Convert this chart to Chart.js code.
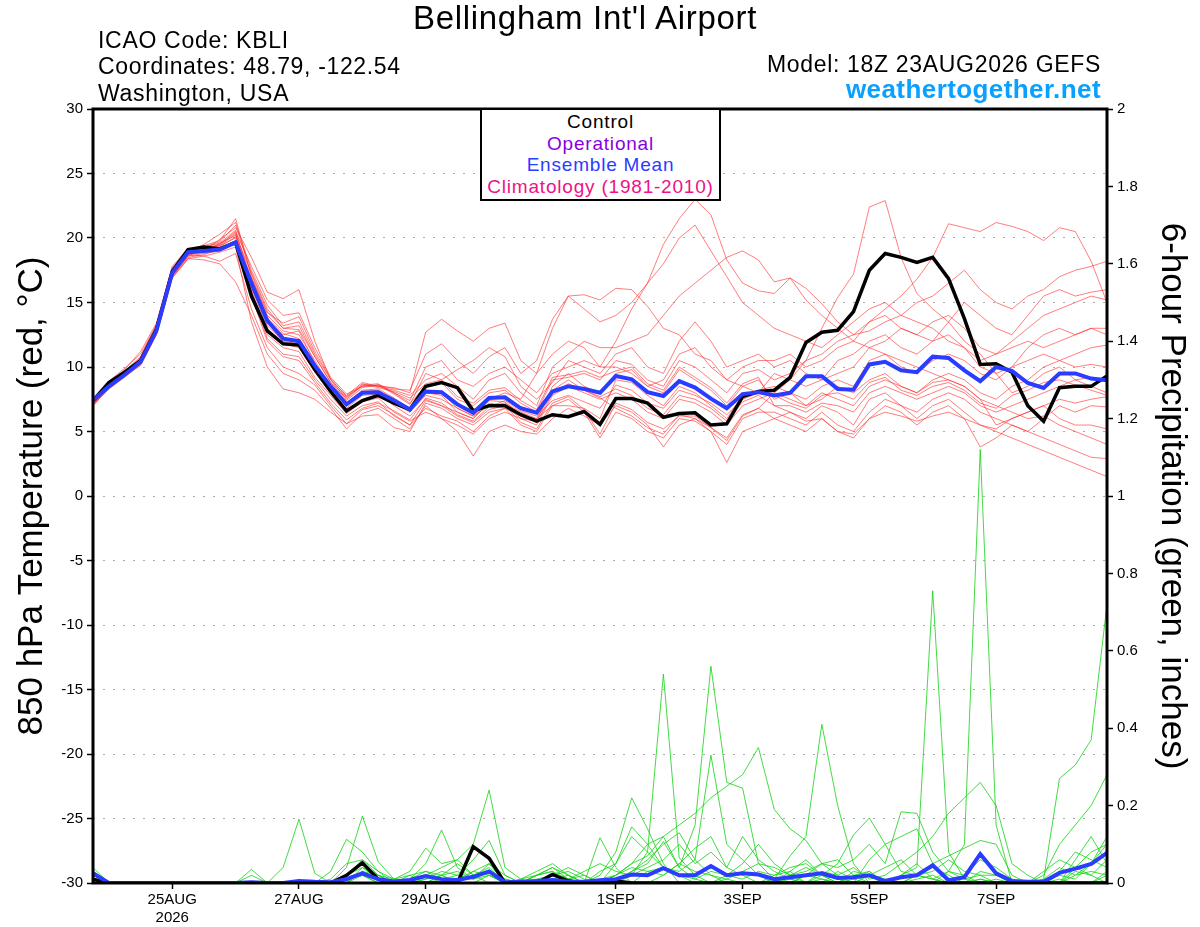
<!DOCTYPE html>
<html>
<head>
<meta charset="utf-8">
<script src="https://cdn.jsdelivr.net/npm/chart.js@4.4.1/dist/chart.umd.min.js"></script>
<style>
  body { margin: 0; background: #fff; font-family: "Liberation Sans", Arial, sans-serif; }
  #wrap { position: relative; width: 1200px; height: 927px; }
  .txt { position: absolute; white-space: nowrap; color: #000; }
  #legend-box {
    position: absolute; left: 480px; top: 108px; width: 237px; height: 88px;
    border: 2px solid #000; background: #fff; text-align: center;
    font-size: 19px; line-height: 21.7px; padding-top: 1px; letter-spacing: 0.8px;
  }
</style>
</head>
<body>
<div id="wrap">
  <canvas id="chart" width="1200" height="927"></canvas>
  <div class="txt" style="left:0;width:1170px;text-align:center;top:1px;font-size:33px;line-height:34px;letter-spacing:0.7px;">Bellingham Int'l Airport</div>
  <div class="txt" style="left:98px;top:27px;font-size:23px;line-height:26px;letter-spacing:0.7px;">ICAO Code: KBLI</div>
  <div class="txt" style="left:98px;top:53px;font-size:23px;line-height:26px;letter-spacing:0.65px;">Coordinates: 48.79, -122.54</div>
  <div class="txt" style="left:98px;top:80px;font-size:23px;line-height:26px;letter-spacing:0.7px;">Washington, USA</div>
  <div class="txt" style="right:99px;top:51px;font-size:23px;line-height:26px;letter-spacing:0.68px;">Model: 18Z 23AUG2026 GEFS</div>
  <div class="txt" style="right:99px;top:76px;font-size:26px;line-height:26px;font-weight:bold;color:#0aa0ff;letter-spacing:0.42px;">weathertogether.net</div>
  <div id="legend-box">
    <div style="color:#000">Control</div>
    <div style="color:#8a00e0">Operational</div>
    <div style="color:#2a3cff">Ensemble Mean</div>
    <div style="color:#ee1188">Climatology (1981-2010)</div>
  </div>
</div>
<script>
// forecast hours from 18Z 23AUG2026, every 6 h
const hours = Array.from({ length: 65 }, (_, i) => i * 6);

// day ticks (00Z) in forecast hours
const tickHours = [30, 78, 126, 198, 246, 294, 342];
const tickLabels = ["25AUG", "27AUG", "29AUG", "1SEP", "3SEP", "5SEP", "7SEP"];
const yearLabel = "2026";

// 850 hPa temperature, control run
const controlTemp = [
  7.4, 8.8, 9.6, 10.5, 12.9, 17.4, 19.1, 19.3, 19.15, 19.66,
  15.5, 12.8, 11.8, 11.7, 9.8, 8.1, 6.6, 7.4, 7.8, 7.2, 6.7,
  8.5, 8.8, 8.4, 6.6, 7.0, 7.0, 6.3, 5.8, 6.3, 6.15, 6.55, 5.55,
  7.55, 7.55, 7.2, 6.1, 6.4, 6.45, 5.5, 5.6, 7.7, 8.1,
  8.2, 9.2, 11.9, 12.7, 12.85, 14.3, 17.5, 18.8, 18.5, 18.1, 18.5,
  16.85, 13.75, 10.2, 10.25, 9.6, 7.0, 5.8, 8.4, 8.5, 8.5, 9.3
];

// 850 hPa temperature, ensemble mean
const meanTemp = [
  7.4, 8.5, 9.4, 10.4, 12.8, 17.3, 18.9, 19.0, 19.1, 19.65,
  16.5, 13.6, 12.2, 12.0, 10.1, 8.5, 7.1, 8.0, 8.05, 7.4, 6.7,
  8.1, 8.05, 7.1, 6.45, 7.6, 7.65, 6.8, 6.45, 8.1, 8.5, 8.3, 8.0,
  9.3, 9.05, 8.05, 7.75, 8.9, 8.4, 7.55, 6.8, 7.9, 8.05,
  7.8, 8.0, 9.28, 9.28, 8.3, 8.24, 10.2, 10.4, 9.74, 9.6, 10.8,
  10.7, 9.74, 8.9, 10.0, 9.7, 8.76, 8.37, 9.5, 9.5, 9.1, 8.97
];

// 850 hPa temperature, ensemble members
const memberTemp = [
  [7.2, 8.7, 9.6, 10.6, 13.1, 17.6, 19.1, 19.4, 19.8, 21.5,
   17.0, 14.0, 12.8, 12.5, 10.5, 8.5, 7.2, 8.2, 8.3, 7.6, 6.8,
   8.0, 7.8, 6.5, 6.0, 7.2, 7.0, 6.0, 5.5, 7.8, 8.5, 8.0, 7.5,
   8.0, 7.5, 6.5, 6.0, 7.5, 7.2, 6.5, 5.5, 7.0, 7.5,
   8.0, 9.0, 10.5, 13.0, 15.4, 17.2, 22.4, 22.9, 18.5, 15.7, 14.5,
   13.5, 12.0, 11.0, 9.5, 8.0, 8.5, 9.5, 10.0, 9.0, 8.5, 8.0],
  [7.3, 8.5, 9.4, 10.3, 12.6, 17.0, 18.6, 18.8, 19.0, 19.6,
   16.8, 13.5, 12.5, 12.8, 10.3, 8.6, 7.6, 8.6, 8.7, 8.0, 7.2,
   8.5, 8.8, 7.5, 7.0, 8.0, 8.2, 7.2, 6.5, 9.0, 9.2, 9.5, 9.0,
   10.5, 10.2, 9.0, 8.5, 10.5, 10.0, 9.0, 8.0, 9.5, 9.8,
   9.0, 9.5, 10.5, 11.0, 12.0, 12.5, 13.5, 14.5, 15.5, 16.8, 18.5,
   21.1, 20.8, 20.5, 21.2, 20.9, 20.5, 19.8, 20.8, 20.5, 18.2, 15.0],
  [7.4, 8.8, 9.8, 11.2, 13.4, 17.8, 19.2, 19.0, 19.9, 20.8,
   18.5, 15.8, 15.3, 16.0, 12.0, 9.0, 7.5, 8.6, 8.5, 8.4, 8.0,
   12.7, 13.7, 12.8, 12.0, 13.0, 13.4, 10.5, 9.5, 11.0, 12.0, 11.5, 10.0,
   12.0, 14.5, 16.5, 19.5, 21.5, 23.0, 21.8, 18.3, 16.5, 15.9,
   15.7, 16.9, 15.2, 14.0, 13.0, 12.0, 11.5, 11.0, 10.5, 10.0, 9.5,
   9.0, 8.5, 7.5, 7.0, 6.5, 6.0, 6.2, 5.5, 5.0, 4.5, 4.0],
  [7.3, 8.6, 9.7, 10.8, 13.3, 17.5, 18.9, 19.5, 20.3, 21.2,
   17.5, 14.8, 13.2, 13.5, 11.0, 9.0, 7.8, 8.8, 8.5, 8.2, 7.8,
   9.0, 9.5, 8.5, 7.5, 9.0, 9.5, 8.0, 7.0, 10.0, 11.0, 12.0, 11.5,
   11.5, 12.0, 12.5, 14.0, 15.5, 16.5, 17.5, 18.5, 19.0, 18.3,
   16.6, 16.9, 16.1, 14.9, 13.5, 12.5, 12.8, 13.5, 14.0, 15.0, 15.5,
   16.5, 17.5, 16.0, 15.0, 14.5, 15.5, 16.0, 17.0, 17.5, 17.8, 18.2],
  [7.0, 8.3, 9.3, 10.1, 12.5, 16.9, 18.4, 18.3, 18.0, 16.6,
   14.0, 11.0, 9.5, 9.0, 8.2, 6.8, 5.2, 6.4, 6.8, 6.0, 5.2,
   7.0, 6.0, 5.0, 3.1, 5.0, 5.5, 5.0, 4.8, 6.0, 6.8, 6.2, 5.5,
   7.0, 6.5, 5.5, 3.8, 5.5, 6.0, 5.0, 2.6, 5.0, 5.5,
   6.0, 5.5, 5.0, 6.0, 5.0, 4.5, 6.0, 7.0, 6.5, 5.5, 6.5,
   7.0, 6.0, 3.8, 4.5, 5.5, 5.0, 4.5, 4.0, 3.5, 3.0, 2.9],
  [7.1, 8.4, 9.5, 10.5, 12.9, 17.2, 18.8, 19.1, 19.3, 20.1,
   16.2, 13.0, 11.8, 11.5, 9.6, 8.0, 6.8, 7.8, 7.9, 7.0, 6.2,
   7.5, 7.0, 6.5, 6.0, 7.5, 8.0, 7.5, 9.5, 13.0, 15.5, 15.6, 15.2,
   16.1, 16.0, 14.7, 13.0, 12.5, 11.0, 10.5, 9.0, 8.5, 8.0,
   9.5, 9.0, 8.5, 9.0, 9.5, 10.0, 11.5, 12.0, 13.0, 12.5, 12.0,
   13.5, 15.0, 14.0, 13.0, 12.5, 14.0, 15.5, 16.0, 15.5, 15.8, 16.0],
  [7.2, 8.5, 9.5, 10.2, 12.7, 17.1, 18.7, 18.6, 18.9, 19.3,
   13.5, 10.0, 8.3, 8.0, 7.5, 6.5, 5.6, 6.2, 6.3, 5.3, 5.0,
   7.2, 6.8, 6.0, 5.5, 6.5, 6.8, 5.5, 5.0, 7.0, 7.5, 6.5, 4.5,
   6.5, 6.0, 5.0, 4.5, 6.0, 5.8, 5.0, 4.0, 6.0, 6.5,
   6.5, 6.0, 5.5, 6.5, 5.5, 5.0, 6.5, 7.5, 7.0, 6.0, 7.0,
   7.5, 6.5, 5.5, 5.0, 4.5, 4.0, 3.5, 3.0, 2.5, 2.0, 1.5],
  [7.2, 8.6, 9.6, 10.4, 12.8, 17.3, 18.9, 19.0, 19.5, 20.4,
   16.0, 12.5, 11.5, 11.2, 9.2, 7.8, 6.4, 7.3, 7.6, 6.5, 5.8,
   6.5, 6.0, 5.5, 4.8, 6.0, 6.5, 6.0, 5.8, 8.5, 9.5, 8.5, 8.0,
   9.5, 9.8, 8.5, 8.0, 9.8, 9.0, 8.2, 7.0, 8.5, 9.0,
   7.5, 8.0, 7.0, 7.5, 8.5, 8.0, 9.0, 9.5, 8.5, 8.0, 9.0,
   9.5, 9.0, 8.0, 7.5, 8.5, 9.0, 10.0, 10.5, 11.0, 11.5, 11.7],
  [7.3, 8.7, 9.7, 10.7, 13.0, 17.5, 19.0, 19.3, 19.7, 21.0,
   17.2, 14.3, 13.0, 12.9, 10.8, 8.8, 7.4, 8.4, 8.6, 7.9, 7.1,
   9.5, 9.0, 9.8, 10.5, 11.5, 10.8, 8.5, 7.5, 8.8, 10.5, 10.0, 9.5,
   11.0, 11.5, 10.0, 9.5, 12.0, 13.5, 12.0, 10.0, 10.5, 11.0,
   10.0, 10.5, 9.5, 9.0, 10.5, 11.0, 12.0, 12.5, 11.5, 11.0, 12.0,
   12.5, 11.5, 10.0, 9.5, 10.0, 10.5, 11.0, 10.5, 10.0, 10.2, 10.0],
  [7.4, 8.9, 9.9, 11.0, 13.2, 17.7, 19.1, 18.9, 19.6, 20.6,
   16.5, 13.2, 12.0, 11.8, 9.8, 8.2, 7.0, 8.0, 8.1, 7.2, 6.5,
   7.8, 7.5, 6.8, 6.2, 7.0, 7.2, 6.5, 6.0, 7.0, 7.0, 6.8, 6.0,
   9.0, 8.8, 7.8, 7.0, 8.5, 8.0, 7.0, 6.0, 7.8, 8.2,
   8.5, 8.0, 7.5, 8.5, 9.0, 8.5, 10.5, 11.0, 10.0, 9.5, 10.5,
   11.0, 10.5, 9.5, 9.0, 10.0, 11.5, 12.5, 13.0, 12.5, 13.0, 13.0],
  [7.1, 8.5, 9.4, 10.4, 12.7, 17.1, 18.6, 19.2, 19.4, 20.0,
   16.6, 13.8, 12.6, 12.2, 10.2, 8.4, 7.1, 8.1, 8.2, 7.4, 6.6,
   8.2, 8.0, 6.8, 6.2, 7.4, 7.3, 6.2, 5.7, 8.0, 8.7, 8.2, 7.7,
   8.3, 7.8, 6.8, 6.3, 7.8, 7.5, 6.8, 5.8, 7.3, 7.8,
   7.0, 6.5, 6.0, 7.0, 6.5, 5.5, 7.5, 8.0, 7.0, 6.5, 7.5,
   8.0, 7.5, 6.5, 6.0, 5.5, 5.0, 6.0, 7.0, 6.5, 7.0, 6.9],
  [7.0, 8.4, 9.4, 10.3, 12.6, 17.0, 18.5, 18.7, 19.2, 19.8,
   15.8, 12.2, 11.0, 10.8, 9.0, 7.5, 6.2, 7.0, 7.3, 6.2, 5.5,
   6.8, 6.2, 5.8, 5.0, 6.2, 6.8, 6.2, 6.0, 8.2, 9.0, 8.2, 7.6,
   6.8, 6.2, 5.3, 4.8, 6.3, 6.0, 5.3, 4.3, 6.2, 6.8,
   6.0, 6.5, 5.8, 6.0, 5.0, 4.8, 6.0, 6.5, 6.2, 5.8, 6.2,
   6.5, 6.0, 5.5, 5.2, 6.0, 6.5, 7.0, 7.5, 7.2, 7.5, 7.7],
  [7.3, 8.6, 9.5, 10.5, 12.9, 17.4, 18.8, 19.3, 19.6, 20.2,
   17.3, 14.5, 13.0, 13.2, 10.8, 8.8, 7.7, 8.7, 8.4, 8.1, 7.6,
   8.7, 9.0, 7.7, 7.2, 8.2, 8.4, 7.4, 6.7, 9.2, 9.4, 9.7, 9.2,
   9.7, 10.0, 8.7, 8.2, 10.0, 9.2, 8.4, 7.2, 8.7, 9.2,
   7.0, 7.0, 6.5, 7.2, 7.0, 6.5, 8.0, 8.5, 8.0, 7.5, 8.0,
   8.5, 8.0, 7.0, 6.5, 7.0, 7.5, 8.0, 8.5, 9.0, 9.2, 9.0],
  [7.1, 8.3, 9.2, 10.2, 12.5, 16.9, 18.4, 18.6, 18.2, 18.8,
   14.5, 11.5, 10.0, 9.5, 8.6, 7.0, 5.6, 6.7, 7.0, 6.3, 5.5,
   7.4, 7.0, 6.2, 5.7, 6.7, 7.0, 5.7, 5.2, 7.2, 7.7, 6.7, 4.8,
   7.2, 6.7, 5.7, 5.2, 6.2, 6.2, 5.3, 4.5, 6.3, 6.8,
   8.0, 7.5, 7.0, 8.0, 7.5, 7.0, 8.5, 9.0, 8.5, 8.0, 8.8,
   9.0, 8.5, 7.5, 5.5, 6.0, 6.5, 7.0, 6.0, 5.5, 5.5, 5.2],
  [7.2, 8.6, 9.5, 10.5, 12.8, 17.3, 18.9, 19.2, 19.5, 20.5,
   17.8, 15.2, 14.0, 14.2, 11.5, 9.2, 7.9, 8.5, 8.6, 8.3, 8.2,
   11.0, 11.8, 10.5, 9.5, 10.8, 11.5, 9.5, 10.5, 13.7, 15.5, 14.5, 13.5,
   14.0, 15.0, 16.5, 18.0, 20.0, 21.0, 19.0, 17.0, 15.0, 14.0,
   13.0, 12.5, 12.0, 11.5, 12.5, 13.5, 14.5, 15.0, 14.0, 13.5, 13.0,
   12.0, 11.5, 10.5, 11.0, 12.0, 13.0, 14.0, 14.5, 15.0, 15.5, 15.2],
  [7.3, 8.7, 9.6, 10.6, 13.0, 17.4, 18.9, 19.1, 19.4, 20.3,
   16.9, 14.2, 13.4, 13.9, 11.2, 9.1, 7.7, 8.5, 8.6, 8.0, 7.4,
   10.0, 10.5, 9.0, 8.5, 9.5, 10.0, 9.0, 8.0, 9.5, 10.0, 10.5, 10.0,
   10.0, 9.5, 8.5, 9.0, 11.0, 11.5, 10.0, 9.0, 10.0, 10.5,
   10.5, 11.0, 10.0, 10.5, 11.5, 12.0, 13.5, 14.0, 13.0, 12.5, 13.5,
   14.0, 13.0, 11.5, 11.0, 11.5, 12.0, 11.5, 12.0, 12.5, 13.0, 12.5],
  [7.2, 8.5, 9.4, 10.4, 12.7, 17.2, 18.7, 18.9, 19.1, 19.7,
   15.5, 12.0, 10.8, 10.5, 8.8, 7.2, 5.9, 6.8, 7.2, 6.6, 5.9,
   7.6, 7.2, 6.3, 5.8, 6.9, 7.4, 6.6, 6.2, 7.4, 7.8, 7.3, 6.8,
   8.6, 8.2, 7.2, 6.8, 8.2, 7.8, 7.2, 6.3, 7.5, 8.0,
   7.8, 7.2, 6.8, 7.8, 8.0, 7.5, 8.8, 9.2, 8.2, 7.8, 8.5,
   8.8, 8.2, 7.2, 6.8, 7.8, 8.2, 8.8, 9.0, 8.6, 8.2, 7.8]
];

// 6-hour precipitation (inches), control and ensemble mean
const controlPrecip = [
  0.01, 0, 0, 0, 0, 0, 0, 0, 0, 0,
  0, 0, 0, 0, 0, 0, 0.02, 0.052, 0.01, 0,
  0, 0, 0, 0, 0.094, 0.064, 0, 0, 0, 0.022,
  0.005, 0, 0, 0.005, 0, 0, 0, 0, 0, 0,
  0, 0, 0, 0, 0, 0, 0, 0, 0, 0,
  0, 0, 0, 0, 0, 0, 0, 0, 0, 0,
  0, 0, 0, 0, 0
];
const meanPrecip = [
  0.025, 0, 0, 0, 0, 0, 0, 0, 0, 0,
  0.002, 0, 0, 0.005, 0.003, 0.002, 0.01, 0.025, 0.01, 0.004,
  0.008, 0.018, 0.01, 0.008, 0.016, 0.03, 0.002, 0.003, 0.005, 0.008,
  0.003, 0.003, 0.007, 0.01, 0.022, 0.02, 0.038, 0.02, 0.02, 0.044,
  0.02, 0.025, 0.022, 0.01, 0.015, 0.02, 0.025, 0.013, 0.015, 0.02,
  0.005, 0.015, 0.02, 0.046, 0.007, 0.015, 0.075, 0.025, 0.005, 0.003,
  0.003, 0.026, 0.037, 0.049, 0.078
];

// 6-hour precipitation (inches), ensemble members
const memberPrecip = [
  [0.03, 0, 0, 0, 0, 0, 0, 0, 0, 0,
   0.035, 0, 0, 0, 0, 0, 0.01, 0.02, 0, 0,
   0, 0.02, 0.01, 0, 0, 0, 0, 0, 0, 0.01,
   0, 0, 0.02, 0.08, 0.22, 0.14, 0.05, 0, 0, 0,
   0.01, 0, 0, 0.02, 0.03, 0.06, 0.02, 0, 0, 0,
   0, 0, 0, 0, 0.03, 0.1, 1.12, 0.15, 0, 0,
   0, 0, 0.02, 0.05, 0.1],
  [0.04, 0, 0, 0, 0, 0, 0, 0, 0, 0,
   0.02, 0, 0, 0, 0, 0, 0, 0.03, 0.01, 0,
   0, 0, 0.02, 0.05, 0.02, 0, 0, 0, 0.02, 0.03,
   0, 0, 0, 0, 0.02, 0.08, 0.54, 0.065, 0.02, 0,
   0, 0, 0, 0, 0.01, 0, 0, 0.03, 0.01, 0,
   0, 0, 0, 0, 0, 0, 0, 0, 0, 0,
   0, 0, 0.06, 0.12, 0.05],
  [0.02, 0, 0, 0, 0, 0, 0, 0, 0, 0,
   0, 0, 0.04, 0.165, 0.025, 0, 0.02, 0.04, 0.02, 0,
   0, 0.01, 0.03, 0.02, 0.06, 0.11, 0.02, 0, 0, 0,
   0, 0, 0, 0, 0, 0.03, 0.04, 0.02, 0, 0,
   0, 0, 0, 0.01, 0.07, 0.12, 0.41, 0.2, 0.05, 0,
   0, 0.02, 0.05, 0.01, 0, 0, 0.01, 0, 0, 0,
   0, 0, 0, 0, 0.03],
  [0.03, 0, 0, 0, 0, 0, 0, 0, 0, 0,
   0, 0, 0, 0, 0, 0.03, 0.113, 0.08, 0.03, 0.01,
   0, 0, 0, 0.01, 0.03, 0.05, 0, 0, 0.02, 0.04,
   0.01, 0, 0, 0, 0.03, 0.06, 0.1, 0.13, 0.06, 0.02,
   0, 0, 0, 0, 0, 0.02, 0.05, 0.06, 0.02, 0.03,
   0, 0.02, 0.04, 0.755, 0.08, 0.01, 0, 0, 0, 0,
   0, 0, 0.04, 0.02, 0],
  [0.02, 0, 0, 0, 0, 0, 0, 0, 0, 0,
   0, 0, 0, 0, 0, 0.01, 0.05, 0.06, 0.02, 0,
   0.01, 0.03, 0.02, 0, 0, 0.02, 0, 0.01, 0.03, 0.05,
   0.02, 0, 0.117, 0.04, 0, 0, 0.02, 0.05, 0.09, 0.12,
   0.04, 0.02, 0, 0, 0.03, 0, 0.02, 0.01, 0, 0.06,
   0.1, 0.12, 0.14, 0.05, 0.07, 0.09, 0.11, 0.1, 0.02, 0,
   0, 0.03, 0.08, 0.06, 0.04],
  [0.03, 0, 0, 0, 0, 0, 0, 0, 0, 0,
   0, 0, 0, 0, 0, 0, 0.04, 0.173, 0.055, 0.01,
   0.02, 0.03, 0.01, 0, 0.02, 0.04, 0, 0, 0, 0.02,
   0.03, 0.01, 0, 0.02, 0.05, 0.07, 0.12, 0.04, 0.15, 0.56,
   0.26, 0.245, 0.05, 0.01, 0, 0.02, 0.01, 0, 0.01, 0.03,
   0, 0, 0.01, 0.02, 0, 0, 0.03, 0.02, 0, 0,
   0, 0.01, 0, 0, 0.02],
  [0.02, 0, 0, 0, 0, 0, 0, 0, 0, 0,
   0, 0, 0, 0, 0, 0, 0.02, 0.06, 0.03, 0,
   0.02, 0, 0.02, 0.03, 0.01, 0.02, 0, 0.01, 0.02, 0.03,
   0.01, 0.02, 0, 0.01, 0.03, 0.05, 0.107, 0.04, 0.01, 0,
   0.02, 0.05, 0.1, 0.05, 0.02, 0, 0.01, 0, 0.02, 0,
   0.01, 0, 0.02, 0.03, 0.06, 0.03, 0.02, 0, 0, 0,
   0.01, 0.27, 0.305, 0.37, 0.72],
  [0.01, 0, 0, 0, 0, 0, 0, 0, 0, 0,
   0, 0, 0, 0, 0, 0, 0.01, 0.03, 0.02, 0.01,
   0.03, 0.09, 0.05, 0.06, 0.02, 0.03, 0.01, 0, 0.02, 0.04,
   0.02, 0, 0.03, 0.05, 0.12, 0.08, 0.04, 0.03, 0.06, 0.33,
   0.1, 0.06, 0.02, 0, 0.02, 0.04, 0.02, 0, 0.03, 0.02,
   0.04, 0.06, 0.02, 0.01, 0.03, 0.02, 0.06, 0.04, 0.01, 0,
   0.02, 0.1, 0.15, 0.2, 0.28],
  [0.02, 0, 0, 0, 0, 0, 0, 0, 0, 0,
   0, 0, 0, 0, 0, 0, 0, 0.03, 0.01, 0,
   0.01, 0.05, 0.137, 0.04, 0.01, 0.05, 0.02, 0, 0, 0.02,
   0.01, 0.03, 0.05, 0.03, 0.02, 0.04, 0.06, 0.1, 0.05, 0.08,
   0.04, 0.12, 0.06, 0.03, 0.01, 0, 0.03, 0.02, 0.04, 0.01,
   0.02, 0.05, 0.08, 0.12, 0.18, 0.22, 0.26, 0.2, 0.05, 0.02,
   0, 0.02, 0.01, 0.05, 0.12],
  [0.03, 0, 0, 0, 0, 0, 0, 0, 0, 0,
   0, 0, 0, 0, 0, 0, 0.02, 0.05, 0.02, 0,
   0.01, 0.02, 0.04, 0.06, 0.1, 0.24, 0.04, 0.01, 0, 0.01,
   0.02, 0, 0.01, 0.02, 0.05, 0.1, 0.12, 0.15, 0.18, 0.22,
   0.25, 0.28, 0.35, 0.19, 0.14, 0.11, 0.05, 0.02, 0, 0.02,
   0.01, 0, 0.02, 0.04, 0.02, 0, 0.01, 0, 0, 0,
   0.03, 0.06, 0.04, 0.08, 0.1],
  [0.02, 0, 0, 0, 0, 0, 0, 0, 0, 0,
   0, 0, 0, 0, 0, 0, 0, 0.04, 0.01, 0,
   0, 0.01, 0.02, 0, 0.03, 0.02, 0, 0, 0.01, 0.02,
   0.04, 0.02, 0, 0.05, 0.145, 0.1, 0.04, 0.02, 0.01, 0.03,
   0.02, 0.01, 0.03, 0.02, 0.04, 0.05, 0.02, 0.05, 0.124, 0.168,
   0.1, 0.03, 0.02, 0.01, 0, 0.02, 0, 0.01, 0, 0,
   0, 0, 0.03, 0.02, 0.06],
  [0.01, 0, 0, 0, 0, 0, 0, 0, 0, 0,
   0, 0, 0, 0, 0, 0, 0, 0.02, 0, 0,
   0, 0, 0.01, 0.02, 0.01, 0.03, 0.01, 0, 0, 0.02,
   0.01, 0, 0, 0.02, 0.04, 0.03, 0.02, 0.05, 0.03, 0.02,
   0.01, 0.03, 0.05, 0.04, 0.02, 0.03, 0.05, 0.04, 0.06, 0.1,
   0.05, 0.184, 0.18, 0.08, 0.03, 0.01, 0.02, 0.02, 0, 0,
   0.01, 0.04, 0.02, 0.03, 0.02]
];

const FONT = "'Liberation Sans', Arial, sans-serif";

function pts(vals) {
  return vals.map((v, i) => ({ x: hours[i], y: v }));
}

function line(vals, color, width, axis, order) {
  return {
    data: pts(vals),
    borderColor: color,
    borderWidth: width,
    yAxisID: axis,
    pointRadius: 0,
    tension: 0,
    fill: false,
    order: order,
  };
}

const datasets = [];
memberTemp.forEach((m) => datasets.push(line(m, "rgba(255, 40, 40, 0.6)", 1, "y", 10)));
memberPrecip.forEach((m) => datasets.push(line(m, "rgba(20, 210, 20, 0.8)", 1, "y2", 10)));
datasets.push(line(controlTemp, "#000000", 3.5, "y", 2));
datasets.push(line(controlPrecip, "#000000", 3.5, "y2", 2));
datasets.push(line(meanTemp, "#2a3cff", 4, "y", 1));
datasets.push(line(meanPrecip, "#2a3cff", 4, "y2", 1));

// heavy frame round the plot area
const framePlugin = {
  id: "frame",
  afterDraw(chart) {
    const { ctx, chartArea: a } = chart;
    ctx.save();
    ctx.strokeStyle = "#000";
    ctx.lineWidth = 3;
    ctx.strokeRect(a.left, a.top, a.right - a.left, a.bottom - a.top);
    ctx.restore();
  },
};

new Chart(document.getElementById("chart"), {
  type: "line",
  data: { datasets: datasets },
  plugins: [framePlugin],
  options: {
    responsive: false,
    animation: false,
    layout: { padding: { top: 109, left: 0, right: 0, bottom: 0 } },
    plugins: {
      legend: { display: false },
      tooltip: { enabled: false },
    },
    scales: {
      x: {
        type: "linear",
        min: 0,
        max: 384,
        afterBuildTicks: (scale) => {
          scale.ticks = tickHours.map((h) => ({ value: h }));
        },
        afterFit: (scale) => {
          scale.height = 44;
        },
        ticks: {
          autoSkip: false,
          maxRotation: 0,
          color: "#000",
          padding: 2,
          font: { family: FONT, size: 15 },
          callback: (v) => {
            const i = tickHours.indexOf(v);
            if (i === 0) return [tickLabels[i], yearLabel];
            return tickLabels[i];
          },
        },
        grid: {
          drawOnChartArea: false,
          drawTicks: true,
          tickLength: 6,
          tickColor: "#000",
          tickWidth: 1.5,
        },
        border: { display: false },
      },
      y: {
        position: "left",
        min: -30,
        max: 30,
        afterFit: (scale) => {
          scale.width = 93;
        },
        ticks: {
          stepSize: 5,
          color: "#000",
          padding: 4,
          font: { family: FONT, size: 15 },
        },
        grid: {
          color: "#aaaaaa",
          lineWidth: 1,
          tickLength: 6,
          tickColor: "#000",
          tickWidth: 1.5,
        },
        border: { display: false, dash: [2, 8] },
        title: {
          display: true,
          text: "850 hPa Temperature (red, \u00B0C)",
          color: "#000",
          font: { family: FONT, size: 35 },
          padding: { top: 11, bottom: 0 },
        },
      },
      y2: {
        position: "right",
        min: 0,
        max: 2,
        afterFit: (scale) => {
          scale.width = 93;
        },
        ticks: {
          stepSize: 0.2,
          color: "#000",
          padding: 4,
          font: { family: FONT, size: 15 },
          callback: (v) => String(Math.round(v * 10) / 10),
        },
        grid: {
          drawOnChartArea: false,
          tickLength: 6,
          tickColor: "#000",
          tickWidth: 1.5,
        },
        border: { display: false },
        title: {
          display: true,
          text: "6-hour Precipitation (green, inches)",
          color: "#000",
          font: { family: FONT, size: 35 },
          padding: { top: 7, bottom: 0 },
        },
      },
    },
  },
});
</script>
</body>
</html>
